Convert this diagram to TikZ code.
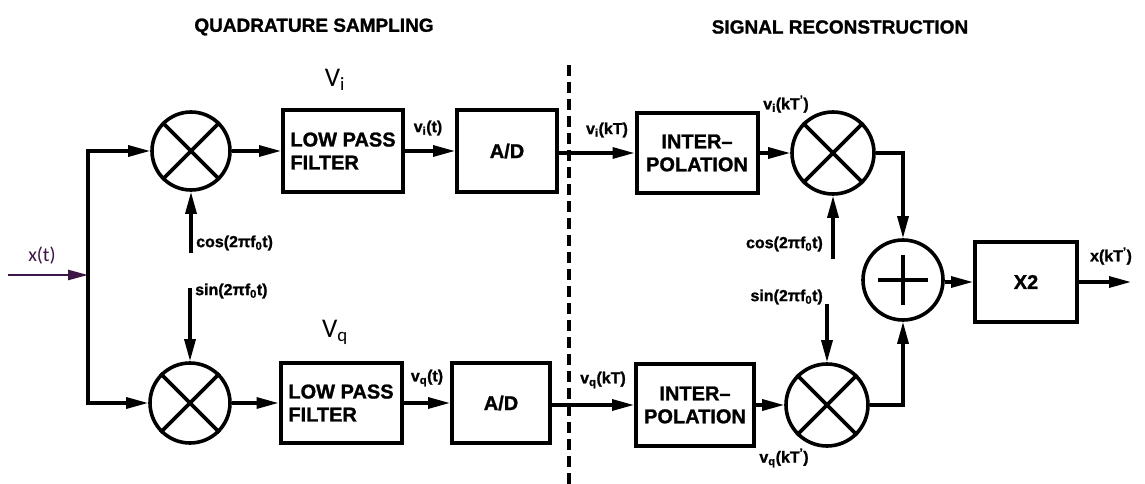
\documentclass[tikz,border=0pt]{standalone}
\usepackage{fontspec}
\setmainfont[BoldFeatures={FakeBold=1.2}]{Liberation Sans}
\newfontfamily\lblfont{Carlito}
\usetikzlibrary{arrows.meta}
\definecolor{inpurple}{RGB}{60,20,70}
\begin{document}
\begin{tikzpicture}[x=1pt,y=-1pt,
  box/.style={draw,line width=4pt,inner sep=0pt,align=left,font=\bfseries\fontsize{20}{23}\selectfont},
  mix/.style={draw,circle,line width=3.6pt,inner sep=0pt},
  wire/.style={line width=3.2pt},
  arr/.style={wire,-{Triangle[length=22pt,width=11pt]}},
  lbl/.style={font=\bfseries\fontsize{16}{18}\selectfont,inner sep=0pt},
  title/.style={font=\bfseries\fontsize{19}{21}\selectfont,inner sep=0pt},
  bigv/.style={font=\lblfont\fontsize{27}{29}\selectfont,inner sep=0pt},
]
\useasboundingbox[fill=white] (0,0) rectangle (1145,484);

% titles
\node[title] (t1) at (314,27) {QUADRATURE SAMPLING};
\node[title] (t2) at (840,27) {SIGNAL RECONSTRUCTION};

% blocks row 1
\node[mix,minimum size=78pt] (m1) at (191,151) {};
\node[box,minimum width=120pt,minimum height=81pt] (lpf1) at (343,151) {LOW PASS\\FILTER};
\node[box,minimum width=100pt,minimum height=81pt] (ad1) at (507,151) {A/D};
\node[box,minimum width=121pt,minimum height=80pt,align=center] (int1) at (697,153) {INTER--\\POLATION};
\node[mix,minimum size=82pt] (m3) at (833,153) {};

% blocks row 2
\node[mix,minimum size=80pt] (m2) at (190,403) {};
\node[box,minimum width=121pt,minimum height=80pt] (lpf2) at (341,403) {LOW PASS\\FILTER};
\node[box,minimum width=98pt,minimum height=80pt] (ad2) at (501,403) {A/D};
\node[box,minimum width=118pt,minimum height=82pt,align=center] (int2) at (695,405) {INTER--\\POLATION};
\node[mix,minimum size=82pt] (m4) at (827,405) {};

% adder and x2
\node[mix,minimum size=80pt] (add) at (903,280) {};
\node[box,minimum width=102pt,minimum height=80pt,align=center] (x2) at (1026,282) {X2};

% mixer crosses
\foreach \m in {m1,m2,m3,m4}{
  \draw[line width=3.6pt] (\m.45) -- (\m.225) (\m.135) -- (\m.315);
}
\draw[line width=3.6pt] ([xshift=-25pt]add.center) -- ([xshift=25pt]add.center)
                      ([yshift=-25pt]add.center) -- ([yshift=25pt]add.center);

% input
\coordinate (in) at (8,275);
\coordinate (j) at (88,275);
\draw[inpurple,line width=2.4pt,-{Triangle[length=20pt,width=10pt]}] (in) -- (j);
\node[font=\lblfont\fontsize{20}{22}\selectfont,text=inpurple,inner sep=0pt] (xt) at (42,256) {x(t)};
\draw[arr] (j) |- (m1.west);
\draw[arr] (j) |- (m2.west);

% row 1 connections
\draw[arr] (m1.east) -- (lpf1.west);
\draw[arr] (lpf1.east) -- (ad1.west);
\draw[arr] (ad1.east |- int1.west) -- (int1.west);
\draw[arr] (int1.east) -- (m3.west);

% row 2 connections
\draw[arr] (m2.east) -- (lpf2.west);
\draw[arr] (lpf2.east) -- (ad2.west);
\draw[arr] (ad2.east |- int2.west) -- (int2.west);
\draw[arr] (int2.east) -- (m4.west);

% local oscillator inputs (left)
\coordinate (c1) at (191,253);
\draw[arr] (c1) -- (m1.south);
\node[lbl,anchor=west] (lc1) at (196,243) {cos(2πf\textsubscript{0}t)};
\coordinate (s1) at (190,288);
\draw[arr] (s1) -- (m2.north);
\node[lbl,anchor=west] (ls1) at (195,291) {sin(2πf\textsubscript{0}t)};

% local oscillator inputs (right)
\coordinate (c2) at (833,259);
\draw[arr] (c2) -- (m3.south);
\node[lbl,anchor=east] (lc2) at (823,244) {cos(2πf\textsubscript{0}t)};
\coordinate (s2) at (827,304);
\draw[arr] (s2) -- (m4.north);
\node[lbl,anchor=east] (ls2) at (823,297) {sin(2πf\textsubscript{0}t)};

% to adder
\draw[arr] (m3.east) -| (add.north);
\draw[arr] (m4.east) -| (add.south);
\draw[arr] (add.east |- x2.west) -- (x2.west);
\coordinate (out) at (1131,282);
\draw[arr] (x2.east) -- (out);

% signal labels
\node[lbl] (lvit) at (428,128) {v\textsubscript{i}(t)};
\node[lbl] (lvqt) at (427,378) {v\textsubscript{q}(t)};
\node[lbl] (lvik) at (607,130) {v\textsubscript{i}(kT)};
\node[lbl] (lvqk) at (603,380) {v\textsubscript{q}(kT)};
\node[lbl] (lvikp) at (786,104) {v\textsubscript{i}(kT\textsuperscript{'})};
\node[lbl] (lvqkp) at (784,458) {v\textsubscript{q}(kT\textsuperscript{'})};
\node[lbl] (lxk) at (1111,256) {x(kT\textsuperscript{'})};

% V labels
\node[bigv] (vi) at (335,80) {V\textsubscript{i}};
\node[bigv] (vq) at (335,332) {V\textsubscript{q}};

% dashed separator
\coordinate (dt) at (569,65);
\coordinate (db) at (569,484);
\draw[line width=3.2pt,dash pattern=on 11pt off 6pt] (dt) -- (db);
\end{tikzpicture}
\end{document}
